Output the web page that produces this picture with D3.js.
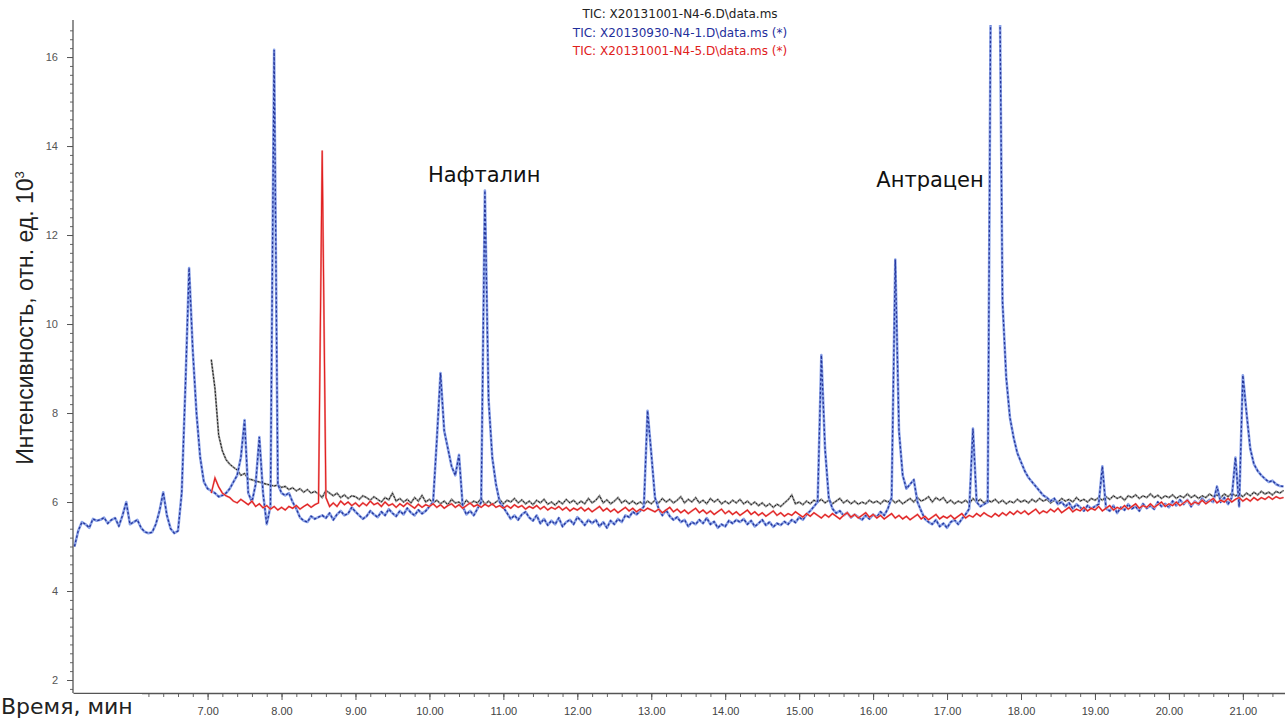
<!DOCTYPE html>
<html>
<head>
<meta charset="utf-8">
<script src="https://cdn.jsdelivr.net/npm/d3@7"></script>
<style>
  body { margin: 0; background: #fff; }
  text { font-family: "Liberation Sans", Arial, sans-serif; }
</style>
</head>
<body>
<svg id="chart" width="1285" height="718"></svg>
<script>
// scan step of the TIC traces, minutes
var step = 0.05

// blue: X20130930-N4-1, first scan at 5.20 min
var blueStart = 5.20
var blueValues = [
  5.0, 5.35, 5.55, 5.5, 5.42, 5.62, 5.58, 5.6, 5.65, 5.52, 5.6, 5.64, 5.46, 5.7, 6.0, 5.5, 5.55, 5.6, 5.42, 5.33,
  5.3, 5.32, 5.5, 5.8, 6.22, 5.7, 5.4, 5.3, 5.35, 6.2, 8.6, 11.26, 9.4, 8.0, 7.0, 6.45, 6.3, 6.25, 6.2, 6.12,
  6.15, 6.2, 6.3, 6.45, 6.6, 7.0, 7.84, 6.2, 6.0, 6.4, 7.46, 6.2, 5.5, 5.9, 16.16, 6.4, 6.2, 6.15, 6.2, 6.0,
  5.85, 5.65, 5.58, 5.55, 5.68, 5.62, 5.66, 5.7, 5.64, 5.75, 5.6, 5.72, 5.8, 5.7, 5.74, 5.88, 5.78, 5.7, 5.62, 5.68,
  5.8, 5.72, 5.66, 5.78, 5.7, 5.84, 5.75, 5.68, 5.8, 5.72, 5.86, 5.76, 5.7, 5.82, 5.74, 5.8, 5.9, 6.0, 7.4, 8.9,
  7.6, 7.2, 6.8, 6.6, 7.06, 5.9, 5.72, 5.8, 5.7, 5.85, 6.0, 13.0, 8.3, 7.0, 6.4, 6.0, 5.88, 5.75, 5.62, 5.7,
  5.6, 5.72, 5.78, 5.65, 5.58, 5.7, 5.52, 5.62, 5.48, 5.58, 5.5, 5.64, 5.45, 5.55, 5.6, 5.5, 5.66, 5.58, 5.48, 5.6,
  5.52, 5.6, 5.45, 5.55, 5.42, 5.58, 5.5, 5.62, 5.55, 5.7, 5.66, 5.78, 5.72, 5.8, 5.9, 8.05, 7.1, 6.1, 5.85, 5.7,
  5.82, 5.68, 5.6, 5.66, 5.55, 5.6, 5.45, 5.55, 5.5, 5.6, 5.52, 5.64, 5.5, 5.56, 5.42, 5.5, 5.45, 5.58, 5.52, 5.6,
  5.55, 5.62, 5.5, 5.58, 5.45, 5.52, 5.6, 5.48, 5.55, 5.44, 5.52, 5.48, 5.56, 5.5, 5.6, 5.54, 5.66, 5.6, 5.72, 5.8,
  5.9, 6.0, 9.3, 7.2, 6.1, 5.85, 5.75, 5.8, 5.7, 5.76, 5.65, 5.72, 5.66, 5.6, 5.7, 5.62, 5.72, 5.66, 5.78, 5.7,
  5.85, 6.1, 11.45, 7.6, 6.6, 6.3, 6.4, 6.5, 6.0, 5.8, 5.62, 5.55, 5.5, 5.6, 5.45, 5.52, 5.42, 5.55, 5.6, 5.5,
  5.62, 5.72, 5.85, 7.65, 6.0, 5.9, 5.95, 6.0, 20, 20, 20, 10.5, 8.8, 7.9, 7.45, 7.1, 6.9, 6.7, 6.55, 6.45,
  6.35, 6.25, 6.15, 6.1, 6.02, 6.08, 5.95, 6.0, 5.9, 5.98, 5.85, 5.95, 5.88, 5.8, 5.92, 5.85, 5.9, 5.95, 6.8, 5.85,
  5.8, 5.92, 5.75, 5.88, 5.82, 5.95, 5.85, 5.9, 5.8, 5.96, 5.86, 5.92, 5.84, 6.0, 5.9, 5.96, 5.88, 6.02, 5.92, 6.05,
  5.95, 6.05, 5.9, 6.02, 5.94, 6.08, 5.98, 6.05, 6.0, 6.35, 6.0, 6.1, 5.95, 6.1, 7.0, 5.9, 8.85, 8.0, 7.2, 6.85,
  6.7, 6.6, 6.52, 6.45, 6.48, 6.4, 6.36, 6.35
]

// black: X20131001-N4-6, first scan at 7.05 min
var blackStart = 7.05
var blackValues = [
  9.2, 8.55, 7.5, 7.15, 6.95, 6.85, 6.78, 6.72, 6.6, 6.64, 6.52, 6.5, 6.47, 6.45, 6.42, 6.4, 6.38, 6.36, 6.38, 6.33,
  6.35, 6.28, 6.32, 6.25, 6.3, 6.22, 6.28, 6.2, 6.24, 6.18, 6.1, 6.26, 6.2, 6.14, 6.2, 6.1, 6.16, 6.08, 6.14, 6.12,
  6.06, 6.14, 6.1, 6.04, 6.12, 6.06, 6.0, 6.1, 6.05, 6.2, 6.02, 6.08, 6.0, 6.06, 5.98, 6.1, 6.02, 6.15, 6.0, 6.06,
  5.98, 6.04, 5.96, 6.02, 5.94, 6.06, 5.98, 6.0, 5.92, 6.04, 5.96, 6.02, 5.98, 6.08, 5.95, 6.02, 5.94, 6.0, 6.06, 5.96,
  6.04, 6.0, 6.08, 5.98, 6.05, 5.96, 6.02, 5.94, 6.04, 5.98, 6.06, 5.95, 6.0, 5.93, 6.02, 5.96, 6.06, 5.98, 6.04, 5.95,
  6.02, 5.96, 6.08, 5.98, 6.04, 6.14, 5.98, 6.05, 5.96, 6.02, 6.1, 5.98, 6.04, 5.96, 6.02, 5.95, 6.0, 5.94, 6.02, 5.96,
  6.04, 5.98, 6.08, 6.0, 6.06, 5.98, 6.04, 6.12, 5.98, 6.06, 6.0, 6.1, 5.98, 6.04, 5.96, 6.08, 6.0, 6.06, 5.96, 6.02,
  5.96, 6.04, 5.98, 6.06, 5.96, 6.02, 5.94, 6.0, 5.92, 5.98, 5.9, 5.96, 5.88, 5.95, 5.9, 5.98, 6.05, 6.16, 5.96, 6.0,
  5.94, 6.02, 5.96, 6.04, 6.0, 6.06, 5.98, 6.04, 5.96, 6.02, 6.08, 5.98, 6.04, 5.96, 6.02, 5.95, 6.0, 5.96, 6.04, 5.98,
  6.02, 5.96, 6.04, 6.0, 6.06, 5.98, 6.04, 5.96, 6.02, 6.08, 6.0, 6.1, 6.02, 6.06, 6.12, 6.0, 6.1, 6.04, 6.1, 5.98,
  6.04, 5.96, 6.02, 5.98, 6.04, 5.96, 6.08, 6.0, 6.06, 5.98, 6.04, 6.0, 6.06, 5.98, 6.04, 5.96, 6.02, 5.98, 6.06, 6.0,
  6.04, 5.98, 6.06, 6.0, 6.08, 6.02, 6.06, 5.98, 6.04, 6.0, 6.08, 6.02, 6.06, 6.0, 6.1, 6.02, 6.06, 6.0, 6.08, 6.04,
  6.1, 6.04, 6.12, 6.06, 6.14, 6.08, 6.12, 6.04, 6.14, 6.1, 6.16, 6.08, 6.14, 6.1, 6.18, 6.1, 6.15, 6.08, 6.14, 6.1,
  6.16, 6.08, 6.14, 6.1, 6.18, 6.1, 6.15, 6.08, 6.14, 6.1, 6.18, 6.12, 6.16, 6.1, 6.18, 6.12, 6.2, 6.14, 6.18, 6.12,
  6.2, 6.14, 6.22, 6.16, 6.24, 6.18, 6.22, 6.16, 6.24, 6.2, 6.26
]

// red: X20131001-N4-5, first scan at 7.05 min
var redStart = 7.05
var redValues = [
  6.2, 6.54, 6.34, 6.2, 6.14, 6.1, 6.02, 5.98, 6.06, 6.0, 5.94, 6.02, 5.9, 5.96, 5.87, 5.92, 5.84, 5.9, 5.82, 5.88,
  5.82, 5.9, 5.86, 5.92, 5.84, 5.9, 5.95, 5.88, 5.94, 5.98, 13.9, 6.1, 5.9, 5.98, 5.9, 6.02, 5.94, 6.0, 5.92, 5.98,
  5.9, 5.98, 5.92, 6.02, 5.94, 5.98, 5.9, 6.0, 5.92, 5.96, 5.88, 5.96, 5.9, 5.98, 5.92, 5.86, 5.95, 5.88, 5.94, 5.9,
  5.96, 5.88, 5.94, 5.86, 5.92, 5.96, 5.88, 5.94, 5.86, 5.92, 5.98, 5.9, 5.94, 5.88, 5.95, 5.9, 5.96, 5.88, 5.92, 5.86,
  5.92, 5.86, 5.94, 5.88, 5.92, 5.84, 5.9, 5.86, 5.92, 5.84, 5.9, 5.82, 5.88, 5.84, 5.9, 5.82, 5.88, 5.8, 5.86, 5.82,
  5.88, 5.8, 5.86, 5.78, 5.84, 5.9, 5.8, 5.86, 5.78, 5.84, 5.76, 5.82, 5.88, 5.8, 5.86, 5.78, 5.84, 5.8, 5.86, 5.82,
  5.78, 5.84, 5.76, 5.82, 5.88, 5.78, 5.84, 5.76, 5.82, 5.74, 5.8, 5.86, 5.76, 5.82, 5.74, 5.8, 5.72, 5.78, 5.84, 5.74,
  5.8, 5.72, 5.78, 5.7, 5.76, 5.82, 5.72, 5.78, 5.7, 5.76, 5.68, 5.74, 5.8, 5.7, 5.76, 5.68, 5.74, 5.7, 5.78, 5.72,
  5.66, 5.74, 5.68, 5.76, 5.7, 5.64, 5.72, 5.66, 5.74, 5.68, 5.62, 5.7, 5.76, 5.66, 5.72, 5.64, 5.7, 5.76, 5.66, 5.72,
  5.64, 5.7, 5.62, 5.68, 5.74, 5.64, 5.7, 5.62, 5.68, 5.6, 5.66, 5.72, 5.62, 5.68, 5.6, 5.66, 5.72, 5.62, 5.68, 5.64,
  5.7, 5.62, 5.68, 5.74, 5.64, 5.7, 5.66, 5.74, 5.68, 5.76, 5.7, 5.66, 5.74, 5.68, 5.76, 5.7, 5.78, 5.72, 5.8, 5.74,
  5.8, 5.72, 5.78, 5.84, 5.74, 5.8, 5.76, 5.84, 5.78, 5.86, 5.76, 5.82, 5.88, 5.78, 5.84, 5.8, 5.88, 5.8, 5.86, 5.82,
  5.9, 5.8, 5.86, 5.92, 5.82, 5.88, 5.84, 5.92, 5.84, 5.9, 5.96, 5.86, 5.92, 5.88, 5.96, 5.88, 5.94, 6.0, 5.9, 5.96,
  5.92, 6.0, 5.92, 5.98, 6.04, 5.94, 6.0, 5.96, 6.04, 5.96, 6.02, 6.08, 5.98, 6.04, 6.0, 6.08, 6.0, 6.06, 6.1, 6.02,
  6.08, 6.02, 6.1, 6.04, 6.1, 6.06, 6.12, 6.06, 6.12, 6.08, 6.1
]

var legendLabels = [
  "TIC: X20131001-N4-6.D\\data.ms",
  "TIC: X20130930-N4-1.D\\data.ms (*)",
  "TIC: X20131001-N4-5.D\\data.ms (*)"
]
var legendColors = ["#222222", "#1f2f9c", "#e0201b"]

var xTicks = [7, 8, 9, 10, 11, 12, 13, 14, 15, 16, 17, 18, 19, 20, 21]
var yTicks = [2, 4, 6, 8, 10, 12, 14, 16]

var peakNames = ["Нафталин", "Антрацен"]
var peakTimes = [10.74, 16.77]
var peakLevels = [13.2, 13.08]

var svg = d3.select("#chart")

var x = d3.scaleLinear().domain([5.18, 21.57]).range([73, 1285])
var y = d3.scaleLinear().domain([1.708, 16.72]).range([693, 25])

// clip so the off-scale peak is cut at the top
svg.append("defs").append("clipPath").attr("id", "plot")
  .append("rect")
  .attr("x", 73).attr("y", 25)
  .attr("width", 1285 - 73).attr("height", 693 - 25)

function trace(start, values) {
  return d3.line()
    .x(function(d, i) { return x(start + i * step) })
    .y(function(d) { return y(d) })(values)
}

var plot = svg.append("g").attr("clip-path", "url(#plot)")

// black
plot.append("path").attr("d", trace(blackStart, blackValues))
  .style("fill", "none").style("stroke", "#9a9a9a").style("stroke-width", 2)
plot.append("path").attr("d", trace(blackStart, blackValues))
  .style("fill", "none").style("stroke", "#1a1a1a").style("stroke-width", 1)
  .style("stroke-dasharray", "2,1.5")

// blue
plot.append("path").attr("d", trace(blueStart, blueValues))
  .style("fill", "none").style("stroke", "#8ba3e8").style("stroke-width", 2.6)
  .style("stroke-linejoin", "round")
plot.append("path").attr("d", trace(blueStart, blueValues))
  .style("fill", "none").style("stroke", "#26369a").style("stroke-width", 1.3)
  .style("stroke-dasharray", "2.5,2")

// red
plot.append("path").attr("d", trace(redStart, redValues))
  .style("fill", "none").style("stroke", "#f29a9a").style("stroke-width", 2)
plot.append("path").attr("d", trace(redStart, redValues))
  .style("fill", "none").style("stroke", "#e01f1f").style("stroke-width", 1.1)

// y axis, with dense minor ticks
var yMinor = d3.range(1.8, 16.7, 0.2)
svg.append("g").attr("transform", "translate(73,0)")
  .call(d3.axisLeft(y).tickValues(yMinor).tickSize(3).tickFormat(""))
  .call(function(g) { g.select(".domain").remove() })
  .selectAll("line").style("stroke", "#666")

var yAxis = svg.append("g").attr("transform", "translate(73,0)")
  .call(d3.axisLeft(y).tickValues(yTicks).tickSize(6).tickSizeOuter(0).tickPadding(9)
    .tickFormat(d3.format("d")))
yAxis.select(".domain").attr("d", "M0,20V693").style("stroke", "#555").style("stroke-width", 1.3)
yAxis.selectAll("line").style("stroke", "#555")
yAxis.selectAll("text").style("font-size", "11px").style("fill", "#555")

// x axis
var xMinor = d3.range(5.2, 21.6, 0.2)
svg.append("g").attr("transform", "translate(0,693)")
  .call(d3.axisBottom(x).tickValues(xMinor).tickSize(4).tickFormat(""))
  .call(function(g) { g.select(".domain").remove() })
  .selectAll("line").style("stroke", "#666")

var xAxis = svg.append("g").attr("transform", "translate(0,693)")
  .call(d3.axisBottom(x).tickValues(xTicks).tickSize(7).tickSizeOuter(0).tickPadding(7)
    .tickFormat(d3.format(".2f")))
xAxis.select(".domain").style("stroke", "#555").style("stroke-width", 1.3)
xAxis.selectAll("line").style("stroke", "#555")
xAxis.selectAll("text").style("font-size", "11px").style("fill", "#444")

// axis titles
svg.append("rect").attr("x", 0).attr("y", 694).attr("width", 142).attr("height", 24).style("fill", "#fff")
svg.append("text").attr("x", 1).attr("y", 714)
  .style("font-family", "'DejaVu Sans', sans-serif")
  .style("font-size", "22px").style("fill", "#222")
  .text("Время, мин")

var yTitle = svg.append("text")
  .attr("transform", "translate(33,318) rotate(-90)")
  .style("text-anchor", "middle").style("font-size", "23px").style("fill", "#222")
yTitle.append("tspan").text("Интенсивность, отн. ед. 10")
yTitle.append("tspan").attr("dy", "-9").style("font-size", "13px").text("3")

// legend
svg.selectAll(".legend")
  .data(legendLabels).enter()
  .append("text")
  .attr("class", "legend")
  .attr("x", 680)
  .attr("y", function(d, i) { return 18 + i * 18.5 })
  .style("text-anchor", "middle")
  .style("font-family", "'DejaVu Sans', sans-serif").style("font-size", "12px")
  .style("fill", function(d, i) { return legendColors[i] })
  .text(function(d) { return d })

// peak names
svg.selectAll(".peak")
  .data(peakNames).enter()
  .append("text")
  .attr("class", "peak")
  .attr("x", function(d, i) { return x(peakTimes[i]) })
  .attr("y", function(d, i) { return y(peakLevels[i]) })
  .style("text-anchor", "middle")
  .style("font-family", "'DejaVu Sans', sans-serif").style("font-size", "21px").style("fill", "#111")
  .text(function(d) { return d })
</script>
</body>
</html>
